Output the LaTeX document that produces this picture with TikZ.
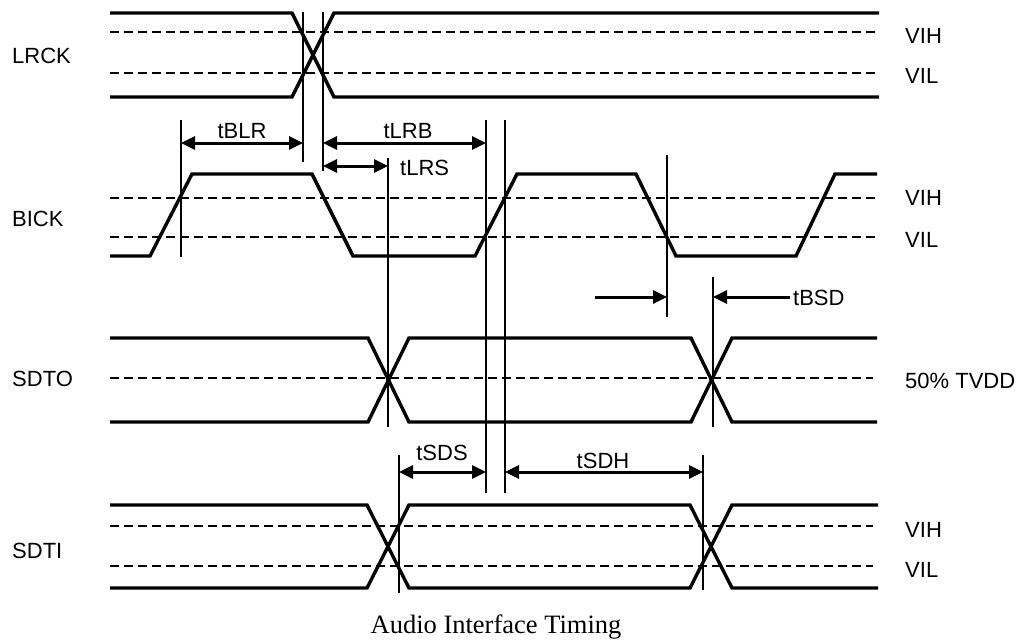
\documentclass[tikz,border=0pt]{standalone}
\usepackage{fontspec}
\setmainfont{Liberation Sans}
\newfontfamily\titlefont{Liberation Serif}
\usetikzlibrary{arrows.meta}
\begin{document}
\begin{tikzpicture}[x=1pt,y=-1pt,
  sig/.style={line width=3.4pt,line join=miter},
  thr/.style={line width=2.7pt,dash pattern=on 8.5pt off 5.5pt},
  refline/.style={line width=1.3pt},
  dim/.style={line width=3pt,{Triangle[length=14pt,width=13pt]}-{Triangle[length=14pt,width=13pt]}},
  dimr/.style={line width=3pt,-{Triangle[length=14pt,width=13pt]}},
  lbl/.style={inner sep=0pt,anchor=base west,font=\fontsize{22}{26}\selectfont},
  tlbl/.style={inner sep=0pt,anchor=base,font=\fontsize{22}{26}\selectfont}]
\useasboundingbox (0,0) rectangle (1031,643);
% signal names
\node[lbl] (nLRCK) at (12,63) {LRCK};
\node[lbl] (nBICK) at (12,226) {BICK};
\node[lbl] (nSDTO) at (12,386) {SDTO};
\node[lbl] (nSDTI) at (12,558) {SDTI};
% level labels
\node[lbl] (l1) at (905,43) {VIH};
\node[lbl] (l2) at (905,83) {VIL};
\node[lbl] (l3) at (905,205) {VIH};
\node[lbl] (l4) at (905,247) {VIL};
\node[lbl] (l5) at (905,388) {50\% TVDD};
\node[lbl] (l6) at (905,537) {VIH};
\node[lbl] (l7) at (905,577) {VIL};
% threshold lines
\draw[thr] (110,32) -- (879,32);
\draw[thr] (110,73) -- (879,73);
\draw[thr] (110,198) -- (879,198);
\draw[thr] (110,237) -- (879,237);
\draw[thr] (110,378) -- (873,378);
\draw[thr] (110,526) -- (873,526);
\draw[thr] (110,566) -- (873,566);
% LRCK
\draw[sig] (110,13) -- (292,13) -- (334,97) -- (879,97);
\draw[sig] (110,97) -- (292,97) -- (334,13) -- (879,13);
% BICK
\draw[sig] (110,256) -- (150,256) -- (192,174) -- (312,174) -- (353,256) -- (475,256) -- (517,174) -- (636,174) -- (676,256) -- (796,256) -- (835,174) -- (877,174);
% SDTO
\draw[sig] (110,338) -- (368,338) -- (409,422) -- (691,422) -- (732,338) -- (877,338);
\draw[sig] (110,422) -- (368,422) -- (409,338) -- (691,338) -- (732,422) -- (877,422);
% SDTI
\draw[sig] (110,505) -- (367,505) -- (409,588) -- (690,588) -- (732,505) -- (878,505);
\draw[sig] (110,588) -- (367,588) -- (409,505) -- (690,505) -- (732,588) -- (878,588);
% reference marks
\coordinate (a1) at (303,12);  \coordinate (a2) at (303,162);
\coordinate (b1) at (323,12);  \coordinate (b2) at (323,171);
\coordinate (c1) at (181,120); \coordinate (c2) at (181,257);
\coordinate (d1) at (486,120); \coordinate (d2) at (486,493);
\coordinate (e1) at (505,120); \coordinate (e2) at (505,493);
\coordinate (f1) at (388,158); \coordinate (f2) at (388,427);
\coordinate (g1) at (667,155); \coordinate (g2) at (667,317);
\coordinate (h1) at (713,277); \coordinate (h2) at (713,427);
\coordinate (i1) at (399,455); \coordinate (i2) at (399,593);
\coordinate (j1) at (703,455); \coordinate (j2) at (703,590);
\foreach \p in {a,b,c,d,e,f,g,h,i,j} \draw[refline] (\p1) -- (\p2);
% timing arrows
\draw[dim] (c1 |- 0,143) -- (a1 |- 0,143);
\draw[dim] (b1 |- 0,143) -- (d1 |- 0,143);
\draw[dim] (b1 |- 0,166) -- (f1 |- 0,166);
\coordinate (bsdA) at (595,297);
\coordinate (bsdB) at (790,297);
\draw[dimr] (bsdA) -- (g1 |- bsdA);
\draw[dimr] (bsdB) -- (h1 |- bsdB);
\draw[dim] (i1 |- 0,472) -- (d1 |- 0,472);
\draw[dim] (e1 |- 0,472) -- (j1 |- 0,472);
% timing labels
\node[tlbl] (tBLR) at (242,138) {tBLR};
\node[tlbl] (tLRB) at (408,138) {tLRB};
\node[lbl] (tLRS) at (400,175) {tLRS};
\node[lbl] (tBSD) at (793,305) {tBSD};
\node[tlbl] (tSDS) at (442,460) {tSDS};
\node[tlbl] (tSDH) at (603,468) {tSDH};
% title
\node[inner sep=0pt,anchor=base,font=\titlefont\fontsize{26.5}{30}\selectfont] (title) at (496,633) {Audio Interface Timing};
\end{tikzpicture}
\end{document}
